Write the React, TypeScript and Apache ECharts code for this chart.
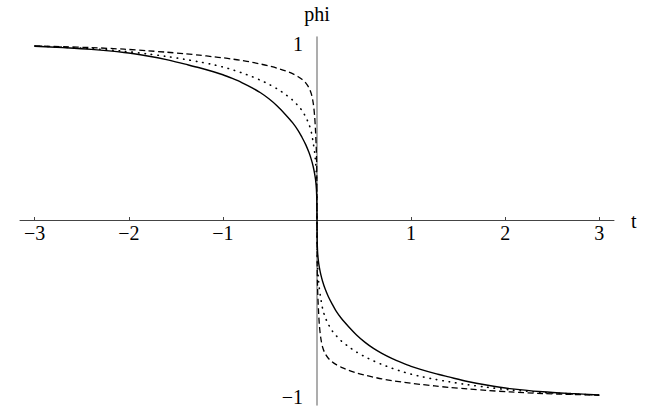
import React, { useEffect, useRef } from "react";
import * as echarts from "echarts";

// t values shared by the three curves, and the phi readings of each curve
const tValues = [
  -3, -2.7, -2.4, -2.05, -1.8, -1.6, -1.4, -1.25, -1.1, -1, -0.9, -0.8, -0.689, -0.6, -0.511, -0.42, -0.334, -0.26, -0.2, -0.16, -0.12, -0.085, -0.06, -0.04, -0.025, -0.015, -0.006, -0.002,
  0,
  0.002, 0.006, 0.015, 0.025, 0.04, 0.06, 0.085, 0.12, 0.16, 0.2, 0.26, 0.334, 0.42, 0.511, 0.6, 0.689, 0.8, 0.9, 1, 1.1, 1.25, 1.4, 1.6, 1.8, 2.05, 2.4, 2.7, 3,
];
const solidPhi = [
  0.988, 0.98, 0.97, 0.952, 0.932, 0.912, 0.886, 0.866, 0.843, 0.826, 0.805, 0.782, 0.752, 0.724, 0.69, 0.648, 0.6, 0.555, 0.51, 0.472, 0.43, 0.385, 0.345, 0.305, 0.265, 0.23, 0.175, 0.11,
  0,
  -0.11, -0.175, -0.23, -0.265, -0.305, -0.345, -0.385, -0.43, -0.472, -0.51, -0.555, -0.6, -0.648, -0.69, -0.724, -0.752, -0.782, -0.805, -0.826, -0.843, -0.866, -0.886, -0.912, -0.932, -0.952, -0.97, -0.98, -0.988,
];
const dottedPhi = [
  0.989, 0.982, 0.974, 0.959, 0.944, 0.93, 0.913, 0.899, 0.883, 0.87, 0.855, 0.837, 0.815, 0.795, 0.772, 0.745, 0.714, 0.683, 0.65, 0.624, 0.587, 0.545, 0.5, 0.44, 0.385, 0.33, 0.25, 0.15,
  0,
  -0.15, -0.25, -0.33, -0.385, -0.44, -0.5, -0.545, -0.587, -0.624, -0.65, -0.683, -0.714, -0.745, -0.772, -0.795, -0.815, -0.837, -0.855, -0.87, -0.883, -0.899, -0.913, -0.93, -0.944, -0.959, -0.974, -0.982, -0.989,
];
const dashedPhi = [
  0.99, 0.985, 0.98, 0.971, 0.962, 0.954, 0.945, 0.937, 0.928, 0.922, 0.915, 0.907, 0.897, 0.887, 0.876, 0.863, 0.848, 0.832, 0.815, 0.8, 0.78, 0.752, 0.718, 0.665, 0.59, 0.5, 0.38, 0.25,
  0,
  -0.25, -0.38, -0.5, -0.59, -0.665, -0.718, -0.752, -0.78, -0.8, -0.815, -0.832, -0.848, -0.863, -0.876, -0.887, -0.897, -0.907, -0.915, -0.922, -0.928, -0.937, -0.945, -0.954, -0.962, -0.971, -0.98, -0.985, -0.99,
];

const xTickValues = [-3, -2, -1, 1, 2, 3];
const yTickValues = [-1, 1];

const FONT = "Liberation Serif";
const FS = 20;

const fmt = (v: number) => (v < 0 ? "\u2212" + Math.abs(v) : String(v));

export default function App() {
  const ref = useRef<HTMLDivElement>(null);
  useEffect(() => {
    if (!ref.current) return;
    const chart = echarts.init(ref.current, null, { renderer: "svg" });
    const pairs = (vs: number[]) => tValues.map((t, i) => [t, vs[i]]);
    chart.setOption({
      animation: false,
      backgroundColor: "#ffffff",
      grid: { left: 20, right: 47, top: 37, bottom: 4, containLabel: false },
      xAxis: {
        type: "value",
        min: -3.156,
        max: 3.156,
        offset: -184.5,
        name: "t",
        nameLocation: "end",
        nameGap: 17,
        nameTextStyle: { fontFamily: FONT, fontSize: FS, color: "#000", verticalAlign: "middle" },
        splitLine: { show: false },
        axisLine: { show: true, onZero: false, lineStyle: { color: "#444", width: 1 } },
        axisTick: { show: true, inside: true, length: 3.5, customValues: xTickValues, lineStyle: { color: "#444", width: 1 } },
        axisLabel: {
          show: true,
          customValues: xTickValues,
          margin: 2,
          fontFamily: FONT,
          fontSize: FS,
          color: "#000",
          formatter: fmt,
        },
      },
      yAxis: {
        type: "value",
        min: -1.045,
        max: 1.04,
        offset: -297,
        name: "phi",
        nameLocation: "end",
        nameGap: 13,
        nameTextStyle: { fontFamily: FONT, fontSize: FS, color: "#000", align: "center" },
        splitLine: { show: false },
        axisLine: { show: true, onZero: false, lineStyle: { color: "#999", width: 1.6 } },
        axisTick: { show: false },
        axisLabel: {
          show: true,
          customValues: yTickValues,
          margin: 14,
          fontFamily: FONT,
          fontSize: FS,
          color: "#000",
          formatter: fmt,
        },
      },
      series: [
        {
          type: "line",
          data: pairs(solidPhi),
          showSymbol: false,
          smooth: 0.3,
          lineStyle: { color: "#000", width: 1.4, type: "solid" },
        },
        {
          type: "line",
          data: pairs(dottedPhi),
          showSymbol: false,
          smooth: 0.3,
          lineStyle: { color: "#000", width: 1.6, type: [0.5, 6], cap: "round" },
        },
        {
          type: "line",
          data: pairs(dashedPhi),
          showSymbol: false,
          smooth: 0.3,
          lineStyle: { color: "#000", width: 1.3, type: [6, 3.5] },
        },
      ],
    });
    return () => chart.dispose();
  }, []);
  return (
    <div
      ref={ref}
      style={{ position: "fixed", left: 0, top: 0, width: 661, height: 409, background: "#fff" }}
    />
  );
}
